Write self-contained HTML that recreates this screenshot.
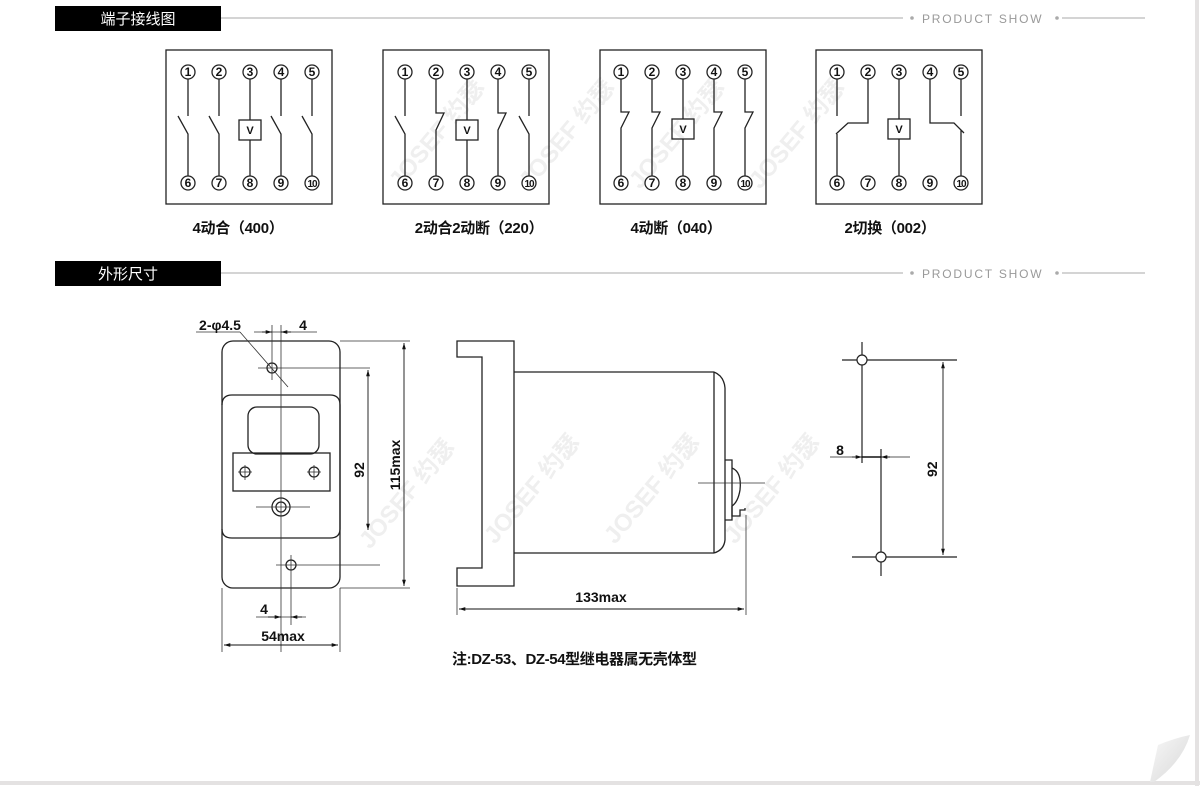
<!DOCTYPE html>
<html><head><meta charset="utf-8">
<style>
html,body{margin:0;padding:0;background:#fff;}
body{width:1200px;height:786px;overflow:hidden;position:relative;font-family:"Liberation Sans","Noto Sans CJK SC",sans-serif;}
svg{position:absolute;left:0;top:0;}
</style></head><body>
<svg width="1200" height="786" viewBox="0 0 1200 786" xmlns="http://www.w3.org/2000/svg" font-family="Liberation Sans, Noto Sans CJK SC, sans-serif">
<defs>
<marker id="a" viewBox="0 0 10 10" refX="10" refY="5" markerWidth="7" markerHeight="7" orient="auto-start-reverse"><path d="M0,2 L10,5 L0,8 z" fill="#111"/></marker>
<linearGradient id="g" x1="0" y1="0" x2="1" y2="1"><stop offset="0" stop-color="#f8f8f8"/><stop offset="1" stop-color="#d8d8d8"/></linearGradient>
</defs>
<line x1="1197" y1="0" x2="1197" y2="786" stroke="#e4e2e2" stroke-width="4"/>
<line x1="0" y1="783" x2="1200" y2="783" stroke="#e4e2e2" stroke-width="4"/>

<rect x="55" y="6" width="166" height="25" fill="#000"/>
<text x="138" y="24" fill="#fff" font-size="15" text-anchor="middle">端子接线图</text>
<line x1="221" y1="18" x2="903" y2="18" stroke="#aaa"/>
<circle cx="912" cy="18" r="1.8" fill="#aaa"/>
<text x="922" y="23" fill="#999" font-size="12" letter-spacing="1.8">PRODUCT SHOW</text>
<circle cx="1057" cy="18" r="1.8" fill="#aaa"/>
<line x1="1062" y1="18" x2="1145" y2="18" stroke="#aaa"/>

<rect x="55" y="261" width="166" height="25" fill="#000"/>
<text x="128" y="279" fill="#fff" font-size="15" text-anchor="middle">外形尺寸</text>
<line x1="221" y1="273" x2="903" y2="273" stroke="#aaa"/>
<circle cx="912" cy="273" r="1.8" fill="#aaa"/>
<text x="922" y="278" fill="#999" font-size="12" letter-spacing="1.8">PRODUCT SHOW</text>
<circle cx="1057" cy="273" r="1.8" fill="#aaa"/>
<line x1="1062" y1="273" x2="1145" y2="273" stroke="#aaa"/>

<g fill="#efefef" font-size="24" font-weight="bold">
<text transform="translate(400,190) rotate(-50)">JOSEF 约瑟</text>
<text transform="translate(530,190) rotate(-50)">JOSEF 约瑟</text>
<text transform="translate(640,190) rotate(-50)">JOSEF 约瑟</text>
<text transform="translate(760,190) rotate(-50)">JOSEF 约瑟</text>
<text transform="translate(370,550) rotate(-50)">JOSEF 约瑟</text>
<text transform="translate(495,545) rotate(-50)">JOSEF 约瑟</text>
<text transform="translate(615,545) rotate(-50)">JOSEF 约瑟</text>
<text transform="translate(735,545) rotate(-50)">JOSEF 约瑟</text>
</g>

<g stroke="#222" stroke-width="1.3" fill="none">
<rect x="166" y="50" width="166" height="154"/>
<rect x="383" y="50" width="166" height="154"/>
<rect x="600" y="50" width="166" height="154"/>
<rect x="816" y="50" width="166" height="154"/>
</g>

<g stroke="#222" stroke-width="1.3" fill="#fff">
<g>
<circle cx="188" cy="72" r="7"/><circle cx="219" cy="72" r="7"/><circle cx="250" cy="72" r="7"/><circle cx="281" cy="72" r="7"/><circle cx="312" cy="72" r="7"/>
<circle cx="188" cy="183" r="7"/><circle cx="219" cy="183" r="7"/><circle cx="250" cy="183" r="7"/><circle cx="281" cy="183" r="7"/><circle cx="312" cy="183" r="7"/>
</g>
<g transform="translate(217,0)">
<circle cx="188" cy="72" r="7"/><circle cx="219" cy="72" r="7"/><circle cx="250" cy="72" r="7"/><circle cx="281" cy="72" r="7"/><circle cx="312" cy="72" r="7"/>
<circle cx="188" cy="183" r="7"/><circle cx="219" cy="183" r="7"/><circle cx="250" cy="183" r="7"/><circle cx="281" cy="183" r="7"/><circle cx="312" cy="183" r="7"/>
</g>
<g transform="translate(433,0)">
<circle cx="188" cy="72" r="7"/><circle cx="219" cy="72" r="7"/><circle cx="250" cy="72" r="7"/><circle cx="281" cy="72" r="7"/><circle cx="312" cy="72" r="7"/>
<circle cx="188" cy="183" r="7"/><circle cx="219" cy="183" r="7"/><circle cx="250" cy="183" r="7"/><circle cx="281" cy="183" r="7"/><circle cx="312" cy="183" r="7"/>
</g>
<g transform="translate(649,0)">
<circle cx="188" cy="72" r="7"/><circle cx="219" cy="72" r="7"/><circle cx="250" cy="72" r="7"/><circle cx="281" cy="72" r="7"/><circle cx="312" cy="72" r="7"/>
<circle cx="188" cy="183" r="7"/><circle cx="219" cy="183" r="7"/><circle cx="250" cy="183" r="7"/><circle cx="281" cy="183" r="7"/><circle cx="312" cy="183" r="7"/>
</g>
</g>

<g font-size="12" text-anchor="middle" fill="#111" font-weight="bold">
<g>
<text x="188" y="76">1</text><text x="219" y="76">2</text><text x="250" y="76">3</text><text x="281" y="76">4</text><text x="312" y="76">5</text>
<text x="188" y="187">6</text><text x="219" y="187">7</text><text x="250" y="187">8</text><text x="281" y="187">9</text><text x="312" y="187" font-size="10" letter-spacing="-1">10</text>
</g>
<g transform="translate(217,0)">
<text x="188" y="76">1</text><text x="219" y="76">2</text><text x="250" y="76">3</text><text x="281" y="76">4</text><text x="312" y="76">5</text>
<text x="188" y="187">6</text><text x="219" y="187">7</text><text x="250" y="187">8</text><text x="281" y="187">9</text><text x="312" y="187" font-size="10" letter-spacing="-1">10</text>
</g>
<g transform="translate(433,0)">
<text x="188" y="76">1</text><text x="219" y="76">2</text><text x="250" y="76">3</text><text x="281" y="76">4</text><text x="312" y="76">5</text>
<text x="188" y="187">6</text><text x="219" y="187">7</text><text x="250" y="187">8</text><text x="281" y="187">9</text><text x="312" y="187" font-size="10" letter-spacing="-1">10</text>
</g>
<g transform="translate(649,0)">
<text x="188" y="76">1</text><text x="219" y="76">2</text><text x="250" y="76">3</text><text x="281" y="76">4</text><text x="312" y="76">5</text>
<text x="188" y="187">6</text><text x="219" y="187">7</text><text x="250" y="187">8</text><text x="281" y="187">9</text><text x="312" y="187" font-size="10" letter-spacing="-1">10</text>
</g>
</g>

<g stroke="#222" stroke-width="1.3" fill="none">
<path d="M188,79 V116 M178,116 L188,134 V176"/>
<path d="M219,79 V116 M209,116 L219,134 V176"/>
<path d="M281,79 V116 M271,116 L281,134 V176"/>
<path d="M312,79 V116 M302,116 L312,134 V176"/>
<path d="M250,79 V120 M250,140 V176"/>
<rect x="239" y="120" width="22" height="20"/>
<path d="M405,79 V116 M395,116 L405,134 V176"/>
<path d="M436,79 V113 H444 L436,130 V176"/>
<path d="M498,79 V113 H506 L498,130 V176"/>
<path d="M529,79 V116 M519,116 L529,134 V176"/>
<path d="M467,79 V120 M467,140 V176"/>
<rect x="456" y="120" width="22" height="20"/>
<path d="M621,79 V112 H629 L621,128 V176"/>
<path d="M652,79 V112 H660 L652,128 V176"/>
<path d="M714,79 V112 H722 L714,128 V176"/>
<path d="M745,79 V112 H753 L745,128 V176"/>
<path d="M683,79 V119 M683,139 V176"/>
<rect x="672" y="119" width="22" height="20"/>
<path d="M837,79 V116"/>
<path d="M868,79 V123 H848 L836,134 M837,134 V176"/>
<path d="M930,79 V123 H954 L964,133 M961,130 V176"/>
<path d="M961,79 V116"/>
<path d="M899,79 V119 M899,139 V176"/>
<rect x="888" y="119" width="22" height="20"/>
</g>
<g font-size="11" font-weight="bold" text-anchor="middle" fill="#111">
<text x="250" y="134">V</text><text x="467" y="134">V</text><text x="683" y="133">V</text><text x="899" y="133">V</text>
</g>

<g font-size="15" fill="#111" text-anchor="middle" font-weight="bold" letter-spacing="-0.3">
<text x="238" y="233">4动合（400）</text>
<text x="479" y="233">2动合2动断（220）</text>
<text x="676" y="233">4动断（040）</text>
<text x="890" y="233">2切换（002）</text>
</g>

<g stroke="#222" stroke-width="1.3" fill="none">
<rect x="222" y="341" width="118" height="247" rx="11"/>
<path d="M222,405 Q222,395 232,395 H330 Q340,395 340,405 V529 Q340,538 330,538 H232 Q222,538 222,529"/>
<rect x="248" y="407" width="71" height="47" rx="9"/>
<rect x="233" y="453" width="97" height="38"/>
<circle cx="245" cy="472" r="5"/><circle cx="314" cy="472" r="5"/>
<circle cx="281" cy="507" r="9"/><circle cx="281" cy="507" r="5"/>
<circle cx="272" cy="368" r="5"/><circle cx="291" cy="565" r="5"/>
</g>
<g stroke="#333" stroke-width="0.8" fill="none">
<line x1="281" y1="325" x2="281" y2="652"/>
<line x1="272" y1="325" x2="272" y2="380"/>
<line x1="291" y1="555" x2="291" y2="625"/>
<line x1="258" y1="368" x2="370" y2="368"/>
<line x1="238" y1="472" x2="252" y2="472"/><line x1="245" y1="465" x2="245" y2="480"/>
<line x1="307" y1="472" x2="321" y2="472"/><line x1="314" y1="465" x2="314" y2="480"/>
<line x1="256" y1="507" x2="310" y2="507"/>
<line x1="276" y1="565" x2="380" y2="565"/>
<line x1="340" y1="341" x2="410" y2="341"/>
<line x1="340" y1="588" x2="410" y2="588"/>
<line x1="222" y1="588" x2="222" y2="652"/>
<line x1="340" y1="588" x2="340" y2="652"/>
<line x1="254" y1="332" x2="317" y2="332"/>
<line x1="256" y1="617" x2="306" y2="617"/>
<line x1="196" y1="332" x2="240" y2="332"/>
<line x1="240" y1="332" x2="288" y2="387"/>
</g>
<g stroke="#111" stroke-width="0.9" fill="none" marker-end="url(#a)" marker-start="url(#a)">
<line x1="404" y1="343" x2="404" y2="586"/>
<line x1="368" y1="370" x2="368" y2="530"/>
<line x1="224" y1="645" x2="338" y2="645"/>
</g>
<g stroke="#111" stroke-width="0.9" fill="none" marker-end="url(#a)">
<line x1="262" y1="332" x2="272" y2="332"/>
<line x1="291" y1="332" x2="281" y2="332"/>
<line x1="268" y1="617" x2="281" y2="617"/>
<line x1="302" y1="617" x2="291" y2="617"/>
</g>
<g font-size="14" fill="#111" text-anchor="middle" font-weight="bold">
<text x="220" y="330">2-φ4.5</text>
<text x="303" y="330">4</text>
<text x="264" y="614">4</text>
<text x="283" y="641">54max</text>
<text transform="translate(400,465) rotate(-90)">115max</text>
<text transform="translate(364,470) rotate(-90)">92</text>
</g>

<g stroke="#222" stroke-width="1.3" fill="none">
<path d="M457,341 H514 V586 H457 V568 H482 V357 H457 Z"/>
<path d="M514,372 H714 M514,553 H714"/>
<path d="M714,372 Q724,376 725,388 V540 Q724,550 714,553"/>
<path d="M714,372 V553"/>
<path d="M725,460 H732 V520 H725"/>
<path d="M732,468 Q742,472 740,490 Q738,502 732,506"/>
<path d="M732,506 V516 H740 V510 H745 V508"/>
</g>
<g stroke="#333" stroke-width="0.8">
<line x1="698" y1="483" x2="765" y2="483"/>
<line x1="457" y1="588" x2="457" y2="615"/>
<line x1="746" y1="515" x2="746" y2="615"/>
</g>
<line x1="459" y1="609" x2="744" y2="609" stroke="#111" stroke-width="0.9" marker-start="url(#a)" marker-end="url(#a)"/>
<text x="601" y="602" font-size="14" text-anchor="middle" fill="#111" font-weight="bold">133max</text>

<g stroke="#222" stroke-width="1.2" fill="none">
<line x1="842" y1="360" x2="957" y2="360"/>
<line x1="852" y1="557" x2="957" y2="557"/>
<line x1="862" y1="342" x2="862" y2="463"/>
<line x1="881" y1="449" x2="881" y2="576"/>
<line x1="830" y1="457" x2="910" y2="457" stroke-width="0.8"/>
<circle cx="862" cy="360" r="5" fill="#fff"/>
<circle cx="881" cy="557" r="5" fill="#fff"/>
</g>
<line x1="862" y1="457" x2="881" y2="457" stroke="#111" stroke-width="1.4"/>
<g stroke="#111" stroke-width="0.9" marker-end="url(#a)">
<line x1="852" y1="457" x2="862" y2="457"/>
<line x1="890" y1="457" x2="881" y2="457"/>
</g>
<line x1="943" y1="362" x2="943" y2="555" stroke="#111" stroke-width="0.9" marker-start="url(#a)" marker-end="url(#a)"/>
<text x="840" y="455" font-size="14" text-anchor="middle" fill="#111" font-weight="bold">8</text>
<text transform="translate(937,477) rotate(-90)" font-size="14" fill="#111" font-weight="bold">92</text>

<text x="452" y="664" font-size="15" fill="#111" font-weight="bold" letter-spacing="-0.4">注:DZ-53、DZ-54型继电器属无壳体型</text>

<path d="M1150,782 L1158,745 Q1175,738 1190,735 Q1182,762 1154,782 Z" fill="url(#g)"/>
</svg>
</body></html>
